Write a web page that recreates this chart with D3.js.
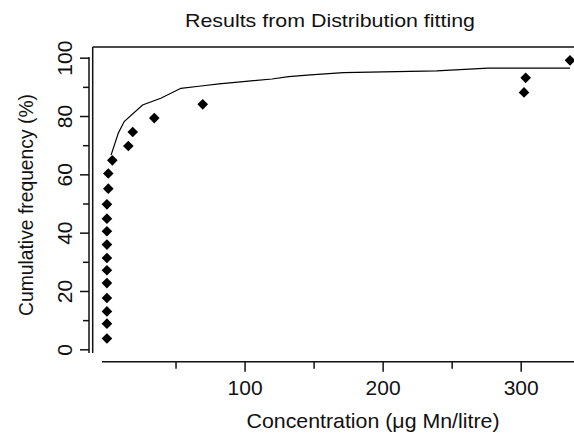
<!DOCTYPE html>
<html>
<head>
<meta charset="utf-8">
<script src="https://cdn.jsdelivr.net/npm/d3@7"></script>
<style>
  body { margin: 0; background: #fff; }
  svg { display: block; }
  text { font-family: "Liberation Sans", Arial, sans-serif; fill: #111; }
</style>
</head>
<body>
<div id="chart"></div>
<script>
// Observed data points (concentration in ug Mn/litre, cumulative frequency %)
const concentration = [0.3, 0.3, 0.3, 0.3, 0.3, 0.3, 0.3, 0.3, 0.3, 0.3, 0.3, 1.3, 1.3, 4.2, 15.8, 19.0, 34.6, 69.7, 302.4, 303.6, 335.7];
const cumFreq = [3.7, 8.8, 13.0, 17.6, 22.7, 27.1, 31.3, 35.9, 40.5, 44.8, 49.7, 55.1, 60.3, 64.8, 69.7, 74.5, 79.3, 84.0, 88.1, 93.1, 99.1];

// Fitted distribution curve
const fitX = [3.3, 8.5, 12.8, 26.1, 39.3, 53.9, 68.4, 81.5, 102.8, 119.9, 131.9, 147.8, 171.6, 239.1, 276.2, 335.7];
const fitY = [66.6, 74.1, 78.1, 83.8, 86.1, 89.5, 90.3, 91.0, 92.0, 92.7, 93.5, 94.1, 94.9, 95.5, 96.4, 96.4];

// Axis ticks
const xMajor = [100, 200, 300];
const xMinor = [50, 150, 250];
const yMajor = [0, 20, 40, 60, 80, 100];
const yMinor = [10, 30, 50, 70, 90];

const width = 574, height = 437;

const svg = d3.select("#chart").append("svg")
    .attr("width", width)
    .attr("height", height);

const x = d3.scaleLinear().domain([0, 300]).range([106.5, 520.7]);
const y = d3.scaleLinear().domain([0, 100]).range([349.3, 57.7]);

// title
svg.append("text")
    .attr("x", 330).attr("y", 27)
    .attr("text-anchor", "middle")
    .attr("font-size", 19)
    .attr("textLength", 290)
    .attr("lengthAdjust", "spacingAndGlyphs")
    .text("Results from Distribution fitting");

// plot box (only top and left edges show in the picture)
const frame = svg.append("g").attr("stroke", "#111").attr("stroke-width", 1.5).attr("fill", "none");
frame.append("line").attr("x1", 92.7).attr("x2", width).attr("y1", 47).attr("y2", 47);
frame.append("line").attr("x1", 92.7).attr("x2", 92.7).attr("y1", 47).attr("y2", 353);

// y axis
const yAxisX = 89;
const yAx = svg.append("g").attr("transform", `translate(${yAxisX},0)`);
yAx.call(d3.axisLeft(y).tickValues(yMajor).tickSize(9).tickSizeOuter(0));
yAx.append("g").call(d3.axisLeft(y).tickValues(yMinor).tickSize(6).tickFormat(""))
    .select(".domain").remove();
yAx.select(".domain").attr("d", "M0,57V353");
yAx.selectAll("line, path").attr("stroke", "#111").attr("stroke-width", 1.5);
yAx.selectAll(".tick text")
    .attr("font-size", 21)
    .attr("text-anchor", "middle")
    .attr("x", 0).attr("y", -17).attr("dy", 0)
    .attr("transform", "rotate(-90)");

// x axis
const xAxisY = 361.7;
const xAx = svg.append("g").attr("transform", `translate(0,${xAxisY})`);
xAx.call(d3.axisBottom(x).tickValues(xMajor).tickSize(10).tickSizeOuter(0));
xAx.append("g").call(d3.axisBottom(x).tickValues(xMinor).tickSize(7).tickFormat(""))
    .select(".domain").remove();
xAx.select(".domain").attr("d", `M102,0H${width}`);
xAx.selectAll("line, path").attr("stroke", "#111").attr("stroke-width", 1.5);
xAx.selectAll(".tick text")
    .attr("font-size", 21)
    .attr("y", 33).attr("dy", 0);

// axis titles
svg.append("text")
    .attr("x", 373).attr("y", 428)
    .attr("text-anchor", "middle")
    .attr("font-size", 21)
    .attr("textLength", 253)
    .attr("lengthAdjust", "spacingAndGlyphs")
    .text("Concentration (\u03bcg Mn/litre)");

svg.append("text")
    .attr("transform", "translate(33,205) rotate(-90)")
    .attr("text-anchor", "middle")
    .attr("font-size", 20)
    .attr("textLength", 222)
    .attr("lengthAdjust", "spacingAndGlyphs")
    .text("Cumulative frequency (%)");

// fitted curve
const fitData = fitX.map((v, i) => [v, fitY[i]]);
svg.append("path")
    .datum(fitData)
    .attr("fill", "none")
    .attr("stroke", "#000")
    .attr("stroke-width", 1.2)
    .attr("d", d3.line().x(d => x(d[0])).y(d => y(d[1])));

// observed points
svg.append("g").selectAll("path")
    .data(concentration.map((c, i) => [c, cumFreq[i]]))
    .join("path")
    .attr("transform", d => `translate(${x(d[0])},${y(d[1])})`)
    .attr("d", d3.symbol(d3.symbolDiamond2, 72))
    .attr("fill", "#000");
</script>
</body>
</html>
